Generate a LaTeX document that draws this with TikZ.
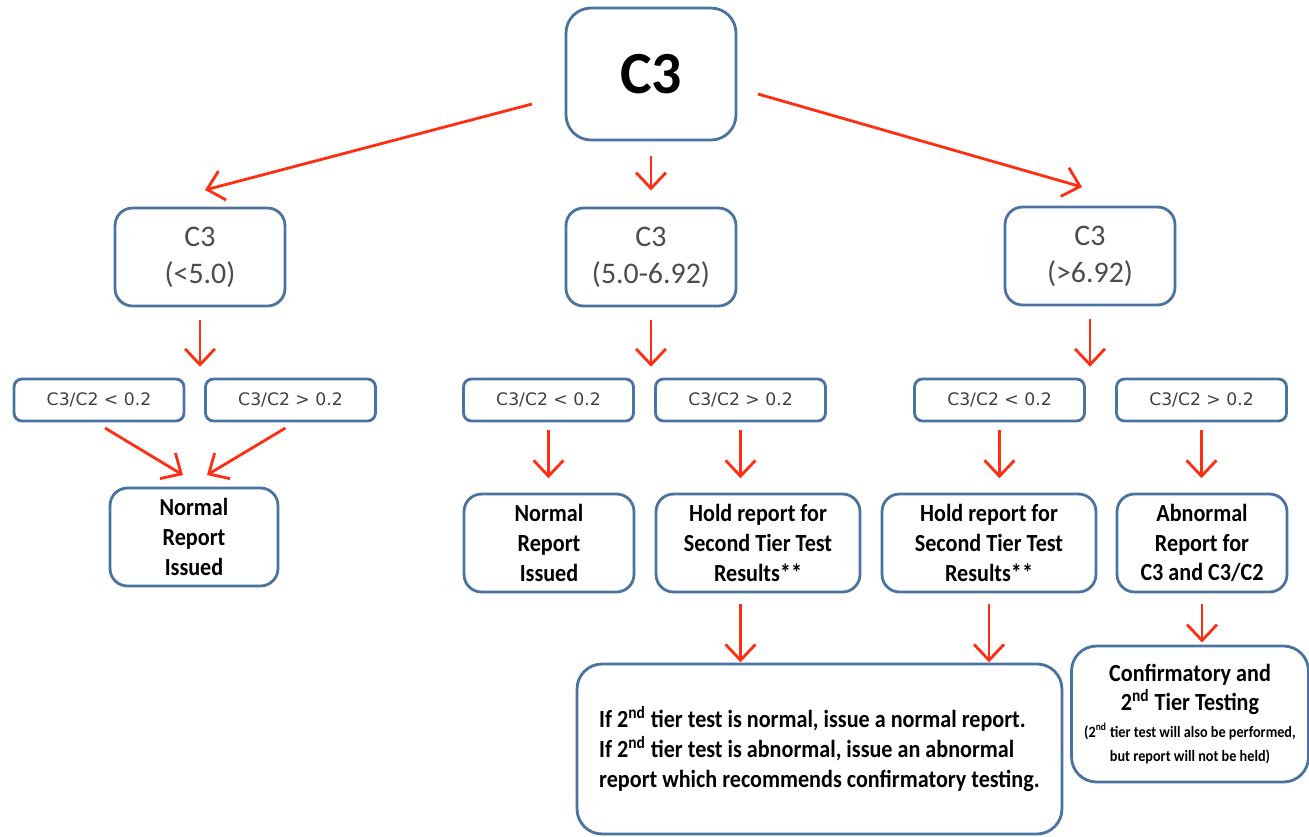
\documentclass[tikz,border=0pt]{standalone}
\usepackage{fontspec}
\setmainfont{Carlito}[FakeStretch=0.9]
\newfontfamily\plainfont{Carlito}
\newfontfamily\ratiofont{DejaVu Sans}
\usepackage{xcolor}
\usepackage{tikz}
\usetikzlibrary{arrows.meta}
\definecolor{boxblue}{HTML}{4A73A1}
\definecolor{arrred}{HTML}{FF2D12}

\begin{document}
\begin{tikzpicture}[x=0.02cm, y=-0.02cm, every node/.style={font=\normalsize}]
  \tikzstyle{cbox}=[rectangle,draw=boxblue,line width=1.6pt,rounded corners=0.35cm,fill=white,align=center,inner sep=2pt,outer sep=0pt]
  \tikzstyle{rbox}=[cbox,rounded corners=0.16cm,minimum width=3.4cm,minimum height=0.84cm,font=\ratiofont\fontsize{9.8}{11}\selectfont,text=black!75]
  \tikzstyle{lvbox}=[cbox,minimum width=3.4cm,minimum height=1.96cm,font=\plainfont\fontsize{17}{21}\selectfont,text=black!70]
  \tikzstyle{outbox}=[cbox,minimum height=1.96cm,font=\bfseries\fontsize{14}{17}\selectfont]
  \tikzstyle{arr}=[-{Straight Barb[length=9pt,width=17pt]},line width=1.6pt,draw=arrred]
  \useasboundingbox (0,0) rectangle (1309,836);

  % top and C3 ranges
  \node[cbox,rounded corners=0.5cm,minimum width=3.4cm,minimum height=2.64cm,font=\plainfont\bfseries\fontsize{34}{40}\selectfont] (top) at (651,74) {C3};
  \node[lvbox] (lo) at (200,257) {C3\\(<5.0)};
  \node[lvbox] (mid) at (651,257) {C3\\(5.0-6.92)};
  \node[lvbox] (hi) at (1090,256) {C3\\(>6.92)};

  % C3/C2 ratio
  \node[rbox] (llo) at (99,400) {C3/C2 < 0.2};
  \node[rbox] (lhi) at (290.5,400) {C3/C2 > 0.2};
  \node[rbox] (mlo) at (548.5,400) {C3/C2 < 0.2};
  \node[rbox] (mhi) at (740.5,400) {C3/C2 > 0.2};
  \node[rbox] (hlo) at (999.5,400) {C3/C2 < 0.2};
  \node[rbox] (hhi) at (1201.5,400) {C3/C2 > 0.2};

  % outcomes
  \node[outbox,minimum width=3.36cm] (ln) at (194,537) {Normal\\Report\\Issued};
  \node[outbox,minimum width=3.4cm] (mn) at (549,543) {Normal\\Report\\Issued};
  \node[outbox,minimum width=4.08cm] (mh) at (758,543) {Hold report for\\Second Tier Test\\Results**};
  \node[outbox,minimum width=4.28cm] (hh) at (989,543) {Hold report for\\Second Tier Test\\Results**};
  \node[outbox,minimum width=3.4cm] (ab) at (1202,543) {Abnormal\\Report for\\C3 and C3/C2};
  \node[outbox,rounded corners=0.5cm,minimum width=9.7cm,minimum height=3.4cm,align=left] (big) at (819.5,749)
    {If 2\textsuperscript{nd} tier test is normal, issue a normal report.\\
     If 2\textsuperscript{nd} tier test is abnormal, issue an abnormal\\
     report which recommends confirmatory testing.};
  \node[outbox,rounded corners=0.5cm,minimum width=4.74cm,minimum height=2.72cm] (conf) at (1190,714)
    {Confirmatory and\\2\textsuperscript{nd} Tier Testing\\[-2pt]
     {\fontsize{9}{10}\selectfont (2\textsuperscript{nd} tier test will also be performed,}\\[-3pt]
     {\fontsize{9}{10}\selectfont but report will not be held)}};

  % arrows
  \draw[arr] ([shift={(-34,30)}]top.west) -- ([shift={(5,-18)}]lo.north);
  \draw[arr,shorten <=9pt,shorten >=10pt] (top.south) -- (mid.north);
  \draw[arr] ([shift={(22,20)}]top.east) -- ([shift={(-8,-20)}]hi.north);
  \foreach \a/\b in {lo/llo,mid/mlo,hi/hlo}
    \draw[arr,shorten <=8pt,shorten >=7pt] (\a.south) -- (\a.south |- \b.north);
  \draw[arr] ([shift={(6,7)}]llo.south) -- ([shift={(-11,-13)}]ln.north);
  \draw[arr] ([shift={(-5,7)}]lhi.south) -- ([shift={(13,-13)}]ln.north);
  \foreach \a/\b in {mlo/mn,mhi/mh,hlo/hh,hhi/ab}
    \draw[arr,shorten <=5pt,shorten >=9pt] (\a.south) -- (\a.south |- \b.north);
  \draw[arr,shorten <=7pt,shorten >=1pt] (mhi.south |- mh.south) -- (mhi.south |- big.north);
  \draw[arr,shorten <=7pt,shorten >=1pt] (hh.south) -- (hh.south |- big.north);
  \draw[arr,shorten <=7pt,shorten >=2pt] (ab.south) -- (ab.south |- conf.north);
\end{tikzpicture}
\end{document}
